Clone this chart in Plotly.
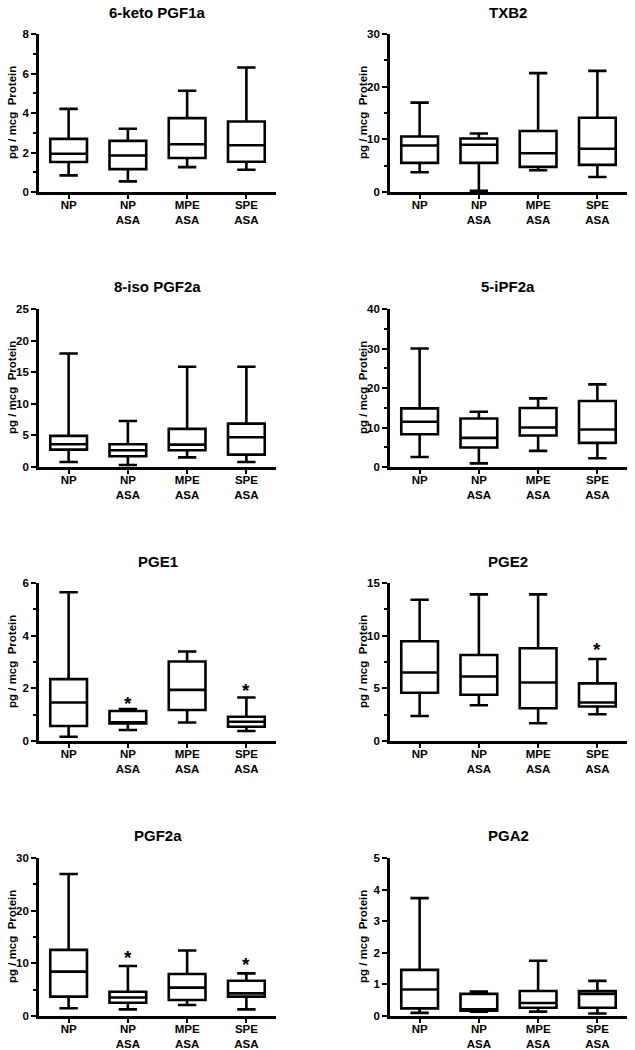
import plotly.graph_objects as go

categories = ["NP", "NP<br>ASA", "MPE<br>ASA", "SPE<br>ASA"]

titles = ["6-keto PGF1a", "TXB2", "8-iso PGF2a", "5-iPF2a", "PGE1", "PGE2", "PGF2a", "PGA2"]

# box statistics per panel (per category: NP, NP ASA, MPE ASA, SPE ASA)
lower = [
    [0.84, 0.54, 1.26, 1.13],
    [3.75, 0.25, 4.13, 2.86],
    [0.79, 0.32, 1.53, 0.79],
    [2.54, 0.93, 4.07, 2.20],
    [0.16, 0.42, 0.70, 0.38],
    [2.38, 3.40, 1.68, 2.54],
    [1.46, 1.26, 2.09, 1.26],
    [0.10, 0.14, 0.14, 0.08],
]
q1 = [
    [1.52, 1.16, 1.72, 1.53],
    [5.53, 5.53, 4.77, 5.15],
    [2.75, 1.69, 2.64, 1.96],
    [8.31, 4.92, 7.97, 6.10],
    [0.57, 0.67, 1.18, 0.54],
    [4.58, 4.39, 3.11, 3.27],
    [3.68, 2.53, 3.04, 3.67],
    [0.24, 0.17, 0.26, 0.26],
]
median = [
    [1.94, 1.85, 2.42, 2.37],
    [8.84, 8.96, 7.37, 8.20],
    [3.59, 2.64, 3.54, 4.70],
    [11.44, 7.37, 10.00, 9.49],
    [1.46, 0.70, 1.94, 0.73],
    [6.51, 6.13, 5.56, 3.65],
    [8.43, 3.50, 5.38, 4.30],
    [0.84, 0.21, 0.41, 0.70],
]
q3 = [
    [2.69, 2.59, 3.74, 3.57],
    [10.55, 10.17, 11.57, 14.10],
    [4.92, 3.59, 6.03, 6.87],
    [14.83, 12.29, 14.92, 16.69],
    [2.35, 1.14, 3.02, 0.92],
    [9.47, 8.17, 8.80, 5.47],
    [12.56, 4.61, 7.97, 6.70],
    [1.46, 0.70, 0.79, 0.79],
]
upper = [
    [4.21, 3.20, 5.13, 6.30],
    [16.97, 11.10, 22.57, 23.00],
    [17.97, 7.29, 15.86, 15.86],
    [30.00, 13.98, 17.37, 20.93],
    [5.65, 1.21, 3.40, 1.65],
    [13.41, 13.92, 13.92, 7.79],
    [26.95, 9.49, 12.43, 8.10],
    [3.73, 0.77, 1.75, 1.11],
]

# y axis settings per panel: max, major step, minor step (None = no minor)
y_max = [8, 30, 25, 40, 6, 15, 30, 5]
y_major = [2, 10, 5, 10, 2, 5, 10, 1]
y_minor = [1, 5, None, 5, 1, 2.5, 5, None]

# significance markers: (panel index, category, y value)
star_panel = [4, 4, 5, 6, 6]
star_cat = ["NP<br>ASA", "SPE<br>ASA", "SPE<br>ASA", "NP<br>ASA", "SPE<br>ASA"]
star_y = [1.62, 2.10, 9.12, 12.0, 10.8]

W, H = 635, 1050
FONT = "Liberation Sans, Arial, sans-serif"

col_px = [(39, 276), (390, 627)]
row_px = [(34, 192), (309, 467), (583, 741), (858, 1016)]
title_px = [12, 286, 561, 835]

fig = go.Figure()
annotations = []

for i in range(8):
    r, c = divmod(i, 2)
    n = i + 1
    xa = "x" if n == 1 else f"x{n}"
    ya = "y" if n == 1 else f"y{n}"
    fig.add_trace(go.Box(
        x=categories,
        q1=q1[i], median=median[i], q3=q3[i],
        lowerfence=lower[i], upperfence=upper[i],
        xaxis=xa, yaxis=ya,
        width=0.62, whiskerwidth=0.5,
        line=dict(color="black", width=2.6),
        fillcolor="rgba(255,255,255,0)",
        boxpoints=False, showlegend=False, hoverinfo="skip",
    ))
    x0, x1 = col_px[c]
    t, b = row_px[r]
    xdom = [x0 / W, x1 / W]
    ydom = [1 - b / H, 1 - t / H]
    xkey = "xaxis" if n == 1 else f"xaxis{n}"
    ykey = "yaxis" if n == 1 else f"yaxis{n}"
    minor = dict(dtick=y_minor[i], tick0=0, ticks="outside", ticklen=3,
                 tickwidth=2, tickcolor="black") if y_minor[i] else dict(ticks="")
    fig.update_layout({
        xkey: dict(domain=xdom, anchor=ya, type="category",
                   categoryorder="array", categoryarray=categories,
                   range=[-0.5, 3.5], showline=True, linecolor="black",
                   linewidth=2.6, ticks="outside", ticklen=4, tickwidth=2,
                   tickcolor="black", showgrid=False, zeroline=False,
                   automargin=False, fixedrange=True, ticklabelstandoff=-4,
                   tickfont=dict(family=FONT, size=11.5, color="black", weight="bold")),
        ykey: dict(domain=ydom, anchor=xa, range=[0, y_max[i]],
                   tick0=0, dtick=y_major[i], showline=True, linecolor="black",
                   linewidth=2.6, ticks="outside", ticklen=5, tickwidth=2,
                   tickcolor="black", showgrid=False, zeroline=False,
                   automargin=False, fixedrange=True, minor=minor,
                   tickfont=dict(family=FONT, size=11.5, color="black", weight="bold")),
    })
    annotations.append(dict(
        text=titles[i], xref="paper", yref="paper",
        x=(x0 + x1) / 2 / W, y=1 - title_px[r] / H,
        xanchor="center", yanchor="middle", showarrow=False,
        font=dict(family=FONT, size=15, color="black", weight="bold"),
    ))
    annotations.append(dict(
        text="pg / mcg\u00a0 Protein", xref="paper", yref="paper",
        x=(x0 - 27) / W, y=1 - (t + b) / 2 / H, textangle=-90,
        xanchor="center", yanchor="middle", showarrow=False,
        font=dict(family=FONT, size=11.5, color="black", weight="bold"),
    ))

for p, cat, yv in zip(star_panel, star_cat, star_y):
    n = p + 1
    annotations.append(dict(
        text="*", x=cat, y=yv,
        xref="x" if n == 1 else f"x{n}", yref="y" if n == 1 else f"y{n}",
        xanchor="center", yanchor="middle", showarrow=False, yshift=-5,
        font=dict(family=FONT, size=19, color="black", weight="bold"),
    ))

fig.update_layout(
    width=W, height=H,
    margin=dict(l=0, r=0, t=0, b=0),
    paper_bgcolor="white", plot_bgcolor="white",
    annotations=annotations,
    font=dict(family=FONT, color="black"),
)

fig.write_html(
    "out.html",
    config={"displayModeBar": False},
    post_script="document.body.style.margin='0px';document.body.style.overflow='hidden';",
)
